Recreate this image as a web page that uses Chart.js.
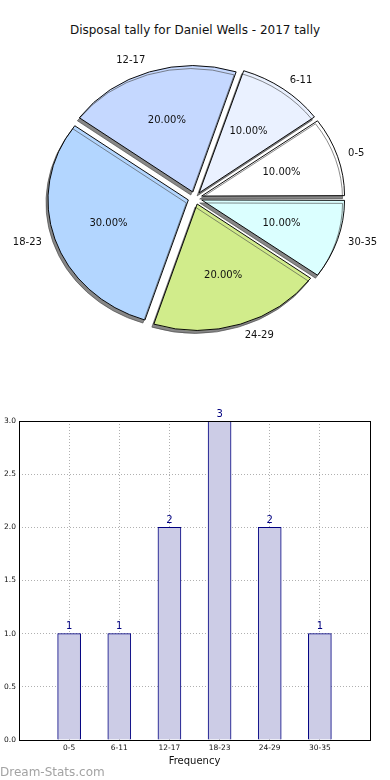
<!DOCTYPE html>
<html>
<head>
<meta charset="utf-8">
<script src="https://cdn.jsdelivr.net/npm/chart.js@4.4.0/dist/chart.umd.min.js"></script>
<style>
  html, body { margin: 0; padding: 0; background: #fff; }
  body { width: 390px; height: 780px; position: relative; overflow: hidden; font-family: "DejaVu Sans", sans-serif; }
  #title { position: absolute; top: 23px; left: 0; width: 390px; text-align: center; font-size: 12px; color: #111; }
  #pie-wrap { position: absolute; top: 0; left: 0; width: 390px; height: 370px; }
  #bar-wrap { position: absolute; top: 400px; left: 0; width: 390px; height: 370px; }
  #mark { position: absolute; left: 0; top: 765px; font-size: 12px; color: #a3a3a3; }
</style>
</head>
<body>
<div id="title">Disposal tally for Daniel Wells - 2017 tally</div>
<div id="pie-wrap"><canvas id="pie"></canvas></div>
<div id="bar-wrap"><canvas id="bar"></canvas></div>
<div id="mark">Dream-Stats.com</div>
<script>
// dados
const categories = ['0-5', '6-11', '12-17', '18-23', '24-29', '30-35'];
const counts     = [1, 1, 2, 3, 2, 1];
const pieColors  = ['#ffffff', '#eaf1ff', '#c5d8ff', '#b3d6ff', '#d1ec8b', '#dbffff'];
const yTicks     = [0, 0.5, 1, 1.5, 2, 2.5, 3];

const RADIUS  = 140;   // raio horizontal
const SQUASH  = 0.9;   // pizza achatada (eixo não 'equal')
const EXPLODE = 7;     // deslocamento de cada fatia
const FONT    = '"DejaVu Sans", sans-serif';

// matplotlib desenha anti-horário a partir do leste; Chart.js é horário
const pieLabels = [...categories].reverse();
const pieData   = [...counts].reverse();
const pieFill   = [...pieColors].reverse();
const total     = counts.reduce((s, v) => s + v, 0);

const ellipsePlugin = {
  id: 'ellipse',
  beforeDatasetsDraw(chart) {
    const arc = chart.getDatasetMeta(0).data[0];
    const ctx = chart.ctx;
    ctx.save();
    ctx.translate(arc.x, arc.y);
    ctx.scale(1, SQUASH);
    ctx.translate(-arc.x, -arc.y);
    ctx.shadowColor = 'rgba(70,70,70,0.65)';
    ctx.shadowOffsetX = -2;
    ctx.shadowOffsetY = 3;
    ctx.shadowBlur = 0;
  },
  afterDatasetsDraw(chart) { chart.ctx.restore(); }
};

const pieTextPlugin = {
  id: 'pieText',
  afterDraw(chart) {
    const ctx = chart.ctx;
    ctx.save();
    ctx.font = '10px ' + FONT;
    ctx.fillStyle = '#111';
    ctx.textBaseline = 'middle';
    chart.getDatasetMeta(0).data.forEach((arc, i) => {
      const half = (arc.startAngle + arc.endAngle) / 2;
      const c = Math.cos(half), s = Math.sin(half);
      const dl = 1.1 * RADIUS + EXPLODE;
      const dp = 0.6 * RADIUS + EXPLODE;
      ctx.textAlign = c > 0 ? 'left' : 'right';
      ctx.fillText(pieLabels[i], arc.x + c * dl, arc.y + s * dl * SQUASH);
      ctx.textAlign = 'center';
      const pct = (pieData[i] / total * 100).toFixed(2) + '%';
      ctx.fillText(pct, arc.x + c * dp, arc.y + s * dp * SQUASH);
    });
    ctx.restore();
  }
};

new Chart(document.getElementById('pie'), {
  type: 'pie',
  data: {
    labels: pieLabels,
    datasets: [{
      data: pieData,
      backgroundColor: pieFill,
      borderColor: '#000',
      borderWidth: 1,
      offset: EXPLODE * 4,
      clip: false
    }]
  },
  options: {
    responsive: true, maintainAspectRatio: false, animation: false,
    rotation: 90,
    radius: RADIUS,
    layout: { padding: { top: 52, bottom: 26, left: 45, right: 45 } },
    plugins: { legend: { display: false }, tooltip: { enabled: false } }
  },
  plugins: [ellipsePlugin, pieTextPlugin]
});

// ── barras ─────────────────────────────────────────────
const frequencyPlugin = {
  id: 'barText',
  afterDatasetsDraw(chart) {
    const ctx = chart.ctx;
    ctx.save();
    ctx.font = '10px ' + FONT;
    ctx.fillStyle = '#000080';
    ctx.textAlign = 'center';
    ctx.textBaseline = 'bottom';
    chart.getDatasetMeta(0).data.forEach((bar, i) => {
      ctx.fillText(String(counts[i]), bar.x, bar.y - 2);
    });
    ctx.restore();
  },
  afterDraw(chart) {
    const { left, right, top, bottom } = chart.chartArea;
    const ctx = chart.ctx;
    ctx.save();
    ctx.strokeStyle = '#000';
    ctx.lineWidth = 1;
    ctx.strokeRect(Math.round(left) + 0.5, Math.round(top) + 0.5, Math.round(right - left), Math.round(bottom - top));
    ctx.restore();
  }
};

new Chart(document.getElementById('bar'), {
  type: 'bar',
  data: {
    datasets: [{
      data: counts.map((v, i) => ({ x: i, y: v })),
      backgroundColor: '#ccccE6',
      borderColor: '#000080',
      borderWidth: 1,
      barThickness: 23
    }]
  },
  options: {
    responsive: true, maintainAspectRatio: false, animation: false,
    layout: { padding: { top: 21, right: 20, bottom: 3, left: 0 } },
    plugins: { legend: { display: false }, tooltip: { enabled: false } },
    scales: {
      x: {
        type: 'linear', min: -1, max: categories.length, z: 1, offset: false,
        afterFit: s => { s.height = 27; },
        border: { display: false, dash: [1, 2] },
        grid: { color: '#b0b0b0', lineWidth: 1, drawTicks: false, offset: false },
        ticks: {
          stepSize: 1, padding: 4, color: '#111', font: { size: 7.5, family: FONT },
          callback: v => categories[v] || ''
        },
        title: { display: true, text: 'Frequency', color: '#111', font: { size: 10, family: FONT }, padding: { top: 1, bottom: 0 } }
      },
      y: {
        min: 0, max: 3, z: 1,
        afterFit: s => { s.width = 19; },
        afterBuildTicks: s => { s.ticks = yTicks.map(v => ({ value: v })); },
        border: { display: false, dash: [1, 2] },
        grid: { color: '#b0b0b0', lineWidth: 1, drawTicks: false },
        ticks: { padding: 3, color: '#111', font: { size: 7.5, family: FONT }, callback: v => v.toFixed(1) }
      }
    }
  },
  plugins: [frequencyPlugin]
});
</script>
</body>
</html>
